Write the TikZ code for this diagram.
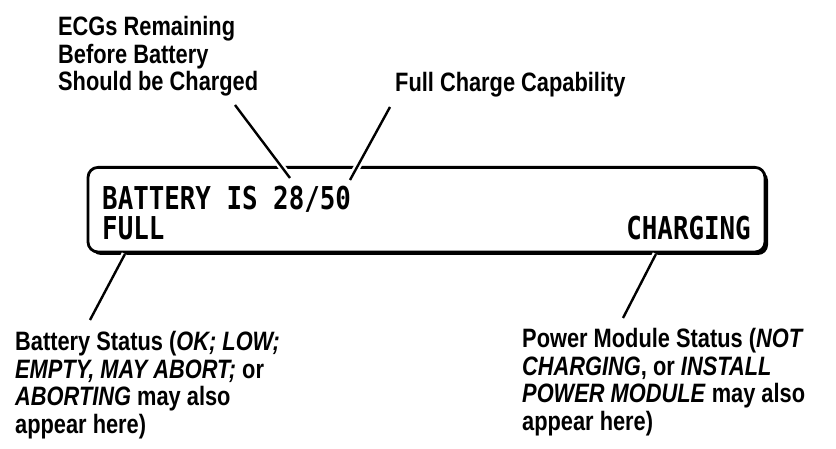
\documentclass[tikz,border=0pt]{standalone}
\usepackage{fontspec}
\setmainfont{Liberation Sans}[FakeStretch=0.82]
\newfontfamily\lcdfont{DejaVu Sans Mono}[FakeStretch=0.82]
\usetikzlibrary{positioning, shadows}

\begin{document}
\begin{tikzpicture}[
    x=1pt, y=-1pt,
    callout/.style={inner sep=0pt, align=left, anchor=north west, font=\bfseries\fontsize{26.6}{27.6}\selectfont},
    lcd/.style={inner sep=0pt, font=\lcdfont\bfseries\fontsize{31.5}{32}\selectfont},
    panel/.style={rectangle, rounded corners=10pt, draw=black, line width=2.8pt, fill=white, inner sep=0pt, outer sep=0pt,
        drop shadow={shadow xshift=3pt, shadow yshift=-3pt, opacity=1, fill=black}},
    leader/.style={line width=2.4pt, preaction={draw=white, line width=7pt}},
]
    \useasboundingbox (0,0) rectangle (836,449);

    % display window
    \node[panel, minimum width=677pt, minimum height=84.6pt] (display) at (426.5,209.7) {};
    \node[lcd, anchor=base west] (row1) at (102,210) {BATTERY IS 28/50};
    \node[lcd, anchor=base west] (full) at (102,240) {FULL};
    \node[lcd, anchor=base east] (charging) at (751,240) {CHARGING};

    % callouts
    \node[callout] (ecgs) at (58,16) {ECGs Remaining\\Before Battery\\Should be Charged};
    \node[callout] (capacity) at (395,72) {Full Charge Capability};
    \node[callout] (batstatus) at (15,331) {Battery Status (\textit{OK; LOW;}\\\textit{EMPTY, MAY ABORT;} or\\\textit{ABORTING} may also\\appear here)};
    \node[callout] (pwrstatus) at (522,328) {Power Module Status (\textit{NOT}\\\textit{CHARGING}, or \textit{INSTALL}\\\textit{POWER MODULE} may also\\appear here)};

    \coordinate (ecgsfoot) at (235,105);
    \coordinate (tip28) at (290,178);
    \coordinate (capfoot) at (390,107);
    \coordinate (tip50) at (350,180);
    \coordinate (fullfoot) at (125,254);
    \coordinate (batfoot) at (90,320);
    \coordinate (chgfoot) at (656,254);
    \coordinate (pwrfoot) at (623,318);

    \draw[leader] (ecgsfoot) -- (tip28);
    \draw[leader] (capfoot) -- (tip50);
    \draw[leader] (fullfoot) -- (batfoot);
    \draw[leader] (chgfoot) -- (pwrfoot);
\end{tikzpicture}
\end{document}
